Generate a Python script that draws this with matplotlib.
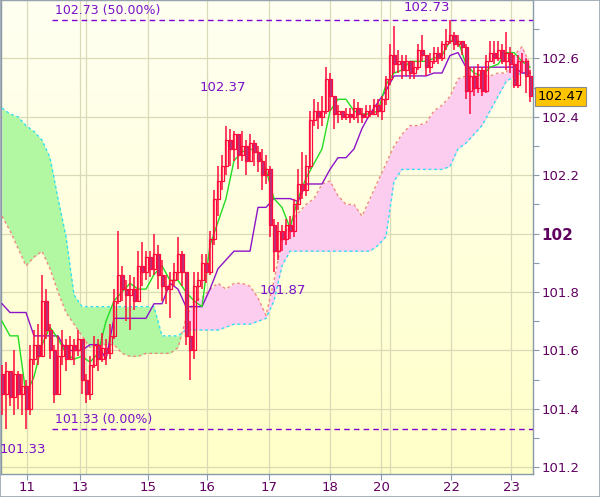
import numpy as np
import matplotlib
matplotlib.use('Agg')
import matplotlib.pyplot as plt

# ローソク足 (始値 = 前の終値)
first_open = 101.52
closes = [101.45, 101.53, 101.44, 101.52, 101.45, 101.48, 101.40, 101.57, 101.62, 101.58,
          101.77, 101.67, 101.60, 101.45, 101.58, 101.62, 101.57, 101.62, 101.60, 101.64,
          101.50, 101.45, 101.55, 101.62, 101.57, 101.61, 101.59, 101.65, 101.77, 101.86,
          101.81, 101.79, 101.81, 101.77, 101.89, 101.87, 101.92, 101.88, 101.93, 101.86,
          101.82, 101.81, 101.84, 101.87, 101.93, 101.87, 101.65, 101.60, 101.82, 101.84,
          101.90, 101.87, 101.98, 102.12, 102.18, 102.23, 102.32, 102.29, 102.34, 102.27,
          102.30, 102.25, 102.31, 102.28, 102.25, 102.20, 102.22, 102.03, 101.94, 102.01,
          101.98, 102.03, 102.01, 102.10, 102.17, 102.15, 102.23, 102.39, 102.42, 102.40,
          102.42, 102.53, 102.47, 102.41, 102.42, 102.40, 102.41, 102.40, 102.43, 102.41,
          102.40, 102.42, 102.41, 102.44, 102.42, 102.46, 102.53, 102.61, 102.58, 102.59,
          102.56, 102.59, 102.55, 102.57, 102.63, 102.61, 102.57, 102.59, 102.62, 102.60,
          102.65, 102.66, 102.68, 102.65, 102.66, 102.64, 102.49, 102.54, 102.50, 102.56,
          102.49, 102.59, 102.62, 102.60, 102.63, 102.59, 102.62, 102.58, 102.51, 102.59,
          102.59, 102.54, 102.47]
highs = [101.55, 101.56, 101.53, 101.60, 101.53, 101.52, 101.50, 101.62, 101.67, 101.69,
         101.86, 101.81, 101.69, 101.62, 101.65, 101.67, 101.64, 101.65, 101.64, 101.67,
         101.64, 101.52, 101.58, 101.65, 101.64, 101.66, 101.64, 101.69, 101.81, 102.01,
         101.89, 101.84, 101.86, 101.85, 101.94, 101.97, 101.94, 101.94, 102.00, 101.96,
         101.91, 101.86, 101.87, 101.90, 101.99, 101.94, 101.87, 101.70, 101.87, 101.87,
         101.93, 101.93, 102.01, 102.15, 102.23, 102.27, 102.37, 102.36, 102.35, 102.34,
         102.35, 102.32, 102.34, 102.32, 102.30, 102.29, 102.27, 102.23, 102.05, 102.04,
         102.03, 102.05, 102.06, 102.12, 102.22, 102.28, 102.27, 102.42, 102.46, 102.45,
         102.47, 102.57, 102.55, 102.47, 102.44, 102.42, 102.43, 102.43, 102.46, 102.45,
         102.43, 102.44, 102.44, 102.46, 102.46, 102.47, 102.54, 102.65, 102.71, 102.63,
         102.61, 102.61, 102.59, 102.59, 102.65, 102.68, 102.61, 102.62, 102.64, 102.64,
         102.66, 102.70, 102.73, 102.69, 102.68, 102.66, 102.65, 102.57, 102.57, 102.58,
         102.57, 102.61, 102.66, 102.66, 102.66, 102.65, 102.69, 102.64, 102.61, 102.61,
         102.62, 102.60, 102.56]
lows = [101.38, 101.33, 101.41, 101.38, 101.40, 101.38, 101.33, 101.38, 101.55, 101.55,
        101.62, 101.64, 101.57, 101.42, 101.48, 101.55, 101.53, 101.57, 101.55, 101.58,
        101.45, 101.42, 101.43, 101.54, 101.53, 101.56, 101.55, 101.57, 101.64, 101.76,
        101.77, 101.70, 101.67, 101.74, 101.77, 101.82, 101.84, 101.85, 101.86, 101.81,
        101.77, 101.76, 101.71, 101.82, 101.84, 101.82, 101.62, 101.50, 101.57, 101.77,
        101.81, 101.83, 101.86, 101.96, 102.06, 102.15, 102.20, 102.23, 102.25, 102.22,
        102.25, 102.20, 102.25, 102.23, 102.21, 102.15, 102.17, 101.99, 101.87, 101.91,
        101.94, 101.96, 101.98, 101.99, 102.08, 102.12, 102.13, 102.22, 102.37, 102.36,
        102.37, 102.41, 102.42, 102.36, 102.38, 102.39, 102.39, 102.38, 102.39, 102.38,
        102.38, 102.40, 102.40, 102.41, 102.40, 102.39, 102.44, 102.51, 102.55, 102.55,
        102.53, 102.54, 102.53, 102.53, 102.56, 102.59, 102.54, 102.55, 102.58, 102.58,
        102.59, 102.63, 102.65, 102.63, 102.64, 102.61, 102.46, 102.41, 102.47, 102.48,
        102.47, 102.48, 102.59, 102.58, 102.59, 102.58, 102.56, 102.55, 102.50, 102.50,
        102.55, 102.48, 102.45]

# 一目均衡表 (2本ごと)
tenkan = [101.70, 101.65, 101.65, 101.45, 101.51, 101.62, 101.68, 101.64, 101.59, 101.57,
          101.58, 101.56, 101.59, 101.70, 101.77, 101.80, 101.83, 101.81, 101.81, 101.86,
          101.89, 101.84, 101.84, 101.80, 101.77, 101.75, 101.96, 102.04, 102.12, 102.25,
          102.28, 102.29, 102.28, 102.22, 102.12, 102.09, 102.02, 102.12, 102.19, 102.24,
          102.29, 102.42, 102.46, 102.46, 102.42, 102.41, 102.41, 102.42, 102.51, 102.55,
          102.56, 102.59, 102.59, 102.59, 102.60, 102.61, 102.66, 102.66, 102.58, 102.55,
          102.54, 102.57, 102.58, 102.62, 102.62, 102.59, 102.57]
kijun = [101.76, 101.73, 101.73, 101.73, 101.65, 101.65, 101.65, 101.65, 101.60, 101.60,
         101.60, 101.62, 101.62, 101.57, 101.71, 101.71, 101.71, 101.71, 101.71, 101.76,
         101.76, 101.83, 101.81, 101.75, 101.75, 101.75, 101.81, 101.88, 101.91, 101.94,
         101.94, 101.94, 102.09, 102.09, 102.12, 102.12, 102.12, 102.11, 102.17, 102.17,
         102.17, 102.22, 102.26, 102.26, 102.29, 102.36, 102.41, 102.45, 102.49, 102.54,
         102.54, 102.54, 102.54, 102.54, 102.55, 102.55, 102.61, 102.62, 102.57, 102.57,
         102.57, 102.57, 102.57, 102.57, 102.57, 102.55, 102.55]
span_a = [102.06, 102.01, 101.95, 101.89, 101.92, 101.94, 101.88, 101.80, 101.73, 101.69,
          101.65, 101.61, 101.62, 101.62, 101.62, 101.59, 101.58, 101.58, 101.59, 101.59,
          101.59, 101.59, 101.61, 101.71, 101.77, 101.78, 101.81, 101.83, 101.81, 101.83,
          101.83, 101.82, 101.78, 101.72, 101.84, 101.98, 102.04, 102.07, 102.10, 102.12,
          102.17, 102.18, 102.13, 102.10, 102.10, 102.06, 102.12, 102.18, 102.24, 102.30,
          102.34, 102.37, 102.37, 102.38, 102.42, 102.44, 102.47, 102.53, 102.54, 102.54,
          102.54, 102.54, 102.55, 102.55, 102.61, 102.64, 102.58]
span_b = [102.43, 102.41, 102.40, 102.37, 102.35, 102.32, 102.26, 102.12, 101.99, 101.79,
          101.75, 101.75, 101.75, 101.75, 101.75, 101.75, 101.75, 101.75, 101.75, 101.75,
          101.65, 101.65, 101.65, 101.67, 101.67, 101.67, 101.67, 101.67, 101.68, 101.69,
          101.69, 101.69, 101.70, 101.71, 101.77, 101.89, 101.94, 101.94, 101.94, 101.94,
          101.94, 101.94, 101.94, 101.94, 101.94, 101.94, 101.94, 101.96, 101.99, 102.18,
          102.22, 102.22, 102.22, 102.22, 102.22, 102.22, 102.23, 102.29, 102.31, 102.34,
          102.37, 102.42, 102.47, 102.52, 102.54, 102.55, 102.55]

# 日付目盛り (ローソク足の番号)
day_pos = [6.25, 19.5, 36.5, 51.25, 66.75, 82, 94.75, 112.25, 127.25]
day_labels = ['11', '13', '15', '16', '17', '18', '20', '22', '23']
extra_grid = [21, 97]

fib_levels = [102.73, 101.33]
fib_labels = ['102.73 (50.00%)', '101.33 (0.00%)']
last_price = 102.47

red = '#ff0a3c'
purple_txt = '#7a10c8'
axis_txt = '#600060'

fig = plt.figure(figsize=(6, 4.97), dpi=100)
fig.patch.set_facecolor('white')
ax = fig.add_axes([1/600, 23/497, 532/600, 474/497])

n = len(closes)
idx = np.arange(n)
opens = [first_open] + closes[:-1]
line_x = np.arange(len(tenkan)) * 2

xmin, xmax = -0.25, 132.75
ymin, ymax = 101.177, 102.8
ax.set_xlim(xmin, xmax)
ax.set_ylim(ymin, ymax)

# 背景グラデーション
grad = np.linspace(0, 1, 200).reshape(-1, 1)
top_c = np.array([255, 255, 242]) / 255
bot_c = np.array([255, 255, 200]) / 255
img = top_c + (bot_c - top_c) * grad[:, :, None]
ax.imshow(img, extent=[xmin, xmax, ymin, ymax], aspect='auto', origin='upper', zorder=0)

# グリッド
for yv in np.arange(101.2, 102.8, 0.2):
    ax.axhline(yv, color='#dadab8', lw=0.9, zorder=1)
for xv in list(day_pos) + extra_grid:
    ax.axvline(xv, color='#dadab8', lw=0.9, zorder=1)

# 雲
sa = np.array(span_a)
sb = np.array(span_b)
ax.fill_between(line_x, sa, sb, where=sb >= sa, interpolate=True, color='#b2f8a2', lw=0, zorder=2)
ax.fill_between(line_x, sa, sb, where=sa >= sb, interpolate=True, color='#fccdee', lw=0, zorder=2)
ax.plot(line_x, sa, color='#f08a80', lw=1.0, ls=(0, (2, 2)), zorder=3)
ax.plot(line_x, sb, color='#30e0f0', lw=1.0, ls=(0, (2, 2)), zorder=3)

# フィボナッチ線
for lv, lab in zip(fib_levels, fib_labels):
    ax.plot([12.5, xmax], [lv, lv], color='#8000d0', lw=1.0, ls=(0, (4, 3)), zorder=4)
    ax.text(13.2, lv + 0.012, lab, color=purple_txt, fontsize=9, va='bottom', ha='left', zorder=6)

# 転換線・基準線
ax.plot(line_x, kijun, color='#8c14c8', lw=1.0, zorder=4)
ax.plot(line_x, tenkan, color='#22dd22', lw=1.0, zorder=4)

# ローソク足
lo = np.minimum(np.minimum(lows, opens), closes)
hi = np.maximum(np.maximum(highs, opens), closes)
ax.vlines(idx, lo, hi, color=red, lw=1.1, zorder=5)
o = np.array(opens)
c = np.array(closes)
body = c - o
fc = ['none' if b >= 0 else '#b8307c' for b in body]
ax.bar(idx, body, bottom=o, width=0.75, facecolor=fc, edgecolor=red, linewidth=0.9, zorder=5)

# 高値・安値ラベル
ax.text(106.25, 102.775, '102.73', color=purple_txt, fontsize=9.5, ha='center', va='center', zorder=6)
ax.text(55.25, 102.50, '102.37', color=purple_txt, fontsize=9.5, ha='center', va='center', zorder=6)
ax.text(70.25, 101.807, '101.87', color=purple_txt, fontsize=9.5, ha='center', va='center', zorder=6)
ax.text(5.25, 101.26, '101.33', color=purple_txt, fontsize=9.5, ha='center', va='center', zorder=6)

# 軸
ax.yaxis.tick_right()
yt = [101.2, 101.4, 101.6, 101.8, 102.0, 102.2, 102.4, 102.6]
ax.set_yticks(yt)
ax.set_yticklabels(['101.2', '101.4', '101.6', '101.8', '102', '102.2', '102.4', '102.6'])
ax.set_yticks(np.arange(101.3, 102.8, 0.2), minor=True)
ax.tick_params(axis='y', which='major', length=4, width=0.8, color='#8899aa',
               labelcolor=axis_txt, labelsize=9.5, pad=2)
ax.tick_params(axis='y', which='minor', length=4, width=0.8, color='#8899aa')
for t in ax.get_yticklabels():
    if t.get_text() == '102':
        t.set_fontweight('bold')
        t.set_fontsize(11)
ax.set_xticks(day_pos)
ax.set_xticklabels(day_labels)
ax.tick_params(axis='x', length=4, width=0.8, color='#8899aa', labelcolor=axis_txt,
               labelsize=9.5, pad=1)
for sp in ax.spines.values():
    sp.set_color('#8899aa')
    sp.set_linewidth(1.0)

# 現在値
ax.annotate(f'{last_price:.2f}', xy=(1.008, last_price), xycoords=('axes fraction', 'data'),
            ha='left', va='center', fontsize=9.5, color='black',
            bbox=dict(boxstyle='square,pad=0.2', facecolor='#ffc400', edgecolor='#8a8a8a', lw=0.8))

# 外枠
fig.add_artist(plt.Rectangle((0, 0), 1, 1, transform=fig.transFigure, fill=False,
                             edgecolor='#9aa4ae', lw=1.2))

fig.savefig('out.png', dpi=100)
